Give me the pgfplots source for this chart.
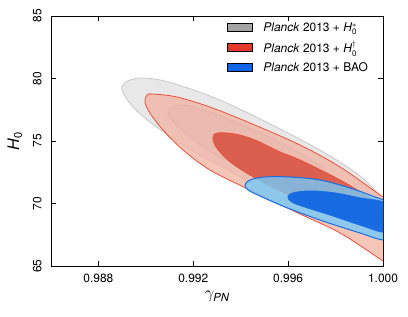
\documentclass[border=0pt]{standalone}
\usepackage{pgfplots}
\pgfplotsset{compat=1.18}
\usepackage{amsmath}
\usepackage{fontspec}
\setmainfont{TeX Gyre Heros}
\usetikzlibrary{calc}
\definecolor{goF}{RGB}{232,232,232}
\definecolor{goL}{RGB}{200,200,200}
\definecolor{giF}{RGB}{216,216,216}
\definecolor{giL}{RGB}{190,190,190}
\definecolor{roF}{RGB}{241,178,160}
\definecolor{roL}{RGB}{232,80,60}
\definecolor{riF}{RGB}{214,65,47}
\definecolor{boF}{RGB}{117,201,248}
\definecolor{boL}{RGB}{25,110,230}
\definecolor{biF}{RGB}{15,100,225}
\definecolor{lgG}{RGB}{163,163,163}
\definecolor{lgR}{RGB}{226,57,42}
\definecolor{lgB}{RGB}{15,99,230}
\begin{document}
\begin{tikzpicture}
\begin{axis}[name=ax,
  width=332bp, height=250bp, scale only axis,
  xmin=0.986, xmax=1.000, ymin=65, ymax=85,
  xtick={0.988,0.992,0.996,1.000},
  ytick={65,70,75,80,85},
  minor tick num=0,
  axis line style={line width=0.9pt},
  major tick length=5bp,
  tick style={black, line width=0.7pt},
  /pgf/number format/assume math mode=true,
  xticklabel style={/pgf/number format/.cd, fixed, fixed zerofill, precision=3},
  scaled x ticks=false,
  ticklabel style={font=\fontsize{12}{14}\selectfont},
  yticklabel style={rotate=90, anchor=south},
  xticklabel shift=5bp,
  yticklabel shift=6bp,
  xlabel={$\gamma_{\textit{PN}}$},
  ylabel={\textit{H}$_{\text{0}}$},
  label style={font=\fontsize{16}{18}\selectfont},
  xlabel style={yshift=-1bp},
  ylabel style={yshift=4bp},
  clip=true,
  legend cell align=left,
  legend style={at={(0.97,0.99)}, anchor=north east, draw=none, fill=none,
    font=\fontsize{12}{14}\selectfont, row sep=4.5pt,
    /tikz/every odd column/.append style={column sep=9bp}},
  legend image code/.code={\draw[#1, draw=black, line width=0.8pt] (0bp,-4bp) rectangle (25bp,4bp);},
]
% gray outer
\addplot[fill=goF, draw=goL, line width=0.8pt, smooth cycle, tension=0.55, forget plot] coordinates {
(0.98899,79.08) (0.98916,79.72) (0.98975,80.04) (0.99060,79.88) (0.99165,79.32)
(0.99292,78.44) (0.99439,77.16) (0.99608,75.56) (0.99777,73.80) (0.99903,72.20)
(0.99975,70.84) (0.99992,69.72) (0.99971,68.76) (0.99903,68.52) (0.99777,69.16)
(0.99608,70.04) (0.99460,71.48) (0.99355,72.60) (0.99228,73.88) (0.99123,75.08)
(0.99017,76.52) (0.98942,77.80)};
% gray inner
\addplot[fill=giF, draw=giL, line width=0.8pt, smooth cycle, tension=0.55, forget plot] coordinates {
(0.99093,77.32) (0.99110,77.72) (0.99165,77.88) (0.99270,77.32) (0.99397,76.36)
(0.99545,75.08) (0.99671,73.80) (0.99755,72.68) (0.99793,71.72) (0.99785,70.92)
(0.99734,70.52) (0.99629,70.92) (0.99502,71.88) (0.99376,73.08) (0.99249,74.44)
(0.99152,75.88) (0.99102,76.84)};
% red outer
\addplot[fill=roF, fill opacity=0.75, draw=roL, line width=0.8pt, smooth cycle, tension=0.55, forget plot] coordinates {
(0.98996,78.12) (0.99005,78.68) (0.99030,78.76) (0.99131,78.52) (0.99270,77.72)
(0.99439,76.44) (0.99650,74.68) (0.99819,72.92) (1.00000,70.52) (1.00038,70.04)
(1.00051,67.08) (1.00021,65.16) (1.00000,65.40) (0.99819,67.64) (0.99650,69.16)
(0.99439,71.08) (0.99270,72.68) (0.99157,74.28) (0.99072,75.88) (0.99017,77.24)};
% red inner
\addplot[fill=riF, fill opacity=0.75, draw=roL, line width=0.8pt, smooth cycle, tension=0.55, forget plot] coordinates {
(0.99283,75.32) (0.99304,75.64) (0.99376,75.56) (0.99460,75.08) (0.99566,74.12)
(0.99650,73.48) (0.99819,71.88) (0.99924,70.68) (0.99987,69.80) (1.00008,69.08)
(0.99987,68.36) (0.99903,68.52) (0.99777,69.24) (0.99650,70.28) (0.99524,71.40)
(0.99418,72.52) (0.99346,73.48) (0.99296,74.52)};
% blue outer
\addplot[fill=boF, fill opacity=0.8, draw=boL, line width=1pt, smooth cycle, tension=0.55, forget plot] coordinates {
(0.99418,71.48) (0.99439,71.88) (0.99502,72.12) (0.99608,72.12) (0.99734,71.88)
(0.99861,71.24) (0.99966,70.52) (1.00038,69.88) (1.00051,67.88) (1.00008,67.08)
(0.99903,67.64) (0.99734,68.68) (0.99587,69.72) (0.99481,70.60) (0.99431,71.08)};
% blue inner
\addplot[fill=biF, fill opacity=0.92, draw=boL, line width=1pt, smooth cycle, tension=0.55, forget plot] coordinates {
(0.99599,70.52) (0.99620,70.84) (0.99692,71.00) (0.99798,70.84) (0.99903,70.44)
(1.00008,70.04) (1.00030,68.68) (1.00008,67.72) (0.99903,68.28) (0.99777,69.08)
(0.99671,69.72) (0.99616,70.12)};
\addlegendimage{fill=lgG}
\addlegendentry{\textit{Planck} 2013 + \textit{H}$_{\text{0}}^{*}$}
\addlegendimage{fill=lgR}
\addlegendentry{\textit{Planck} 2013 + \textit{H}$_{\text{0}}^{\dagger}$}
\addlegendimage{fill=lgB}
\addlegendentry{\textit{Planck} 2013 + BAO}
\end{axis}
\path ($(ax.south west)+(-51bp,-51bp)$) rectangle ($(ax.north east)+(25bp,16bp)$);
\end{tikzpicture}
\end{document}
